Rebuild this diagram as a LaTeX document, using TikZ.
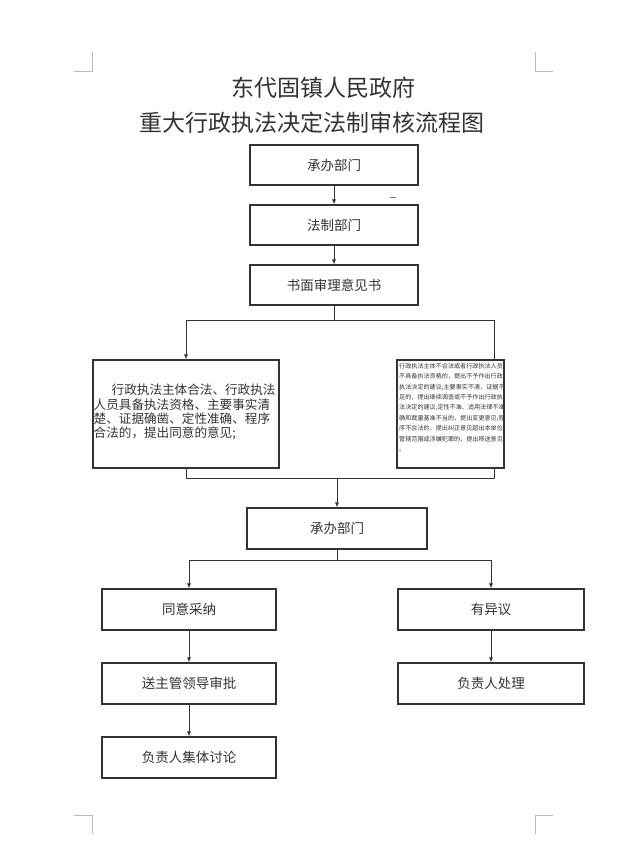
\documentclass[tikz,border=0pt]{standalone}
\usepackage{fontspec}
\setmainfont{Noto Sans CJK SC}
\setlength{\parindent}{0pt}
\usetikzlibrary{arrows.meta}
\definecolor{ink}{HTML}{333333}
\definecolor{mark}{HTML}{BBBBBB}
\definecolor{cursor}{HTML}{5B7FC0}
\tikzset{
  box/.style={draw=ink, line width=1.1pt, minimum height=41pt, inner sep=0pt, text=ink, font=\fontsize{13.5}{16}\selectfont},
  conn/.style={draw=ink, line width=0.9pt},
  arr/.style={conn, -{Latex[length=5pt,width=4pt]}},
  cornermark/.style={draw=mark, line width=0.9pt},
  titletext/.style={text=ink, font=\fontsize{23}{27}\selectfont, inner sep=0pt}
}
\begin{document}
\begin{tikzpicture}[x=1pt,y=-1pt]
\useasboundingbox (0,0) rectangle (630,856);
% corner marks
\draw[cornermark] (74,71) -- (92,71) -- (92,52);
\draw[cornermark] (553,71) -- (535,71) -- (535,52);
\draw[cornermark] (74,815) -- (92,815) -- (92,834);
\draw[cornermark] (553,815) -- (535,815) -- (535,834);
% title
\node[titletext] (t1) at (323,88) {东代固镇人民政府};
\node[titletext] (t2) at (312,123) {重大行政执法决定法制审核流程图};
% boxes
\node[box, minimum width=168pt, minimum height=40pt] (b1) at (334,165) {承办部门};
\node[box, minimum width=168pt, minimum height=40pt] (b2) at (334,225) {法制部门};
\node[box, minimum width=168pt, minimum height=40pt] (b3) at (334,285) {书面审理意见书};
\node[box, minimum width=186pt, minimum height=108pt] (bl) at (186,414) {};
\node[anchor=north west, inner sep=0pt, align=left, text=ink, font=\fontsize{12.6}{14.2}\selectfont] (tl) at (93.5,384) {\hspace*{18pt}行政执法主体合法、行政执法\\人员具备执法资格、主要事实清\\楚、证据确凿、定性准确、程序\\合法的，提出同意的意见;};
\node[box, minimum width=107pt, minimum height=108pt] (br) at (450.5,414) {};
\node[anchor=north west, inner sep=0pt, align=left, text=ink, font=\fontsize{6.1}{10.4}\selectfont] (tr) at (399,363) {行政执法主体不合法或者行政执法人员\\不具备执法资格的，提出不予作出行政\\执法决定的建议;主要事实不清，证据不\\足的，提出继续调查或不予作出行政执\\法决定的建议;定性不准、适用法律不准\\确和裁量基准不当的，提出变更意见;程\\序不合法的，提出纠正意见超出本单位\\管辖范围或涉嫌犯罪的，提出移送意见\\。};
\node[box, minimum width=180pt] (b4) at (337,528.5) {承办部门};
\node[box, minimum width=174pt] (b5) at (189,609.5) {同意采纳};
\node[box, minimum width=186pt] (b6) at (491,609.5) {有异议};
\node[box, minimum width=174pt] (b7) at (189,683.5) {送主管领导审批};
\node[box, minimum width=174pt] (b8) at (189,757.5) {负责人集体讨论};
\node[box, minimum width=186pt] (b9) at (491,683.5) {负责人处理};
% small cursor mark
\draw[cursor, line width=0.9pt] (390,197.5) -- (396,197.5);
% connectors
\draw[arr] (b1.south) -- (b2.north);
\draw[arr] (b2.south) -- (b3.north);
\coordinate (s1) at (334,320);
\coordinate (s1l) at (186,320);
\coordinate (s1r) at (494,320);
\draw[conn] (b3.south) -- (s1);
\draw[conn] (s1l) -- (s1r);
\draw[arr] (s1l) -- (bl.north);
\coordinate (brtop) at (494,360);
\draw[conn] (s1r) -- (brtop);
\coordinate (m1l) at (186,478);
\coordinate (m1r) at (494,478);
\coordinate (m1) at (337,478);
\coordinate (brbot) at (494,468);
\draw[conn] (bl.south) -- (m1l) -- (m1r) -- (brbot);
\draw[arr] (m1) -- (b4.north);
\coordinate (s2) at (337,560);
\coordinate (s2l) at (189,560);
\coordinate (s2r) at (491,560);
\draw[conn] (b4.south) -- (s2);
\draw[conn] (s2l) -- (s2r);
\draw[arr] (s2l) -- (b5.north);
\draw[arr] (s2r) -- (b6.north);
\draw[arr] (b5.south) -- (b7.north);
\draw[arr] (b7.south) -- (b8.north);
\draw[arr] (b6.south) -- (b9.north);
\end{tikzpicture}
\end{document}
